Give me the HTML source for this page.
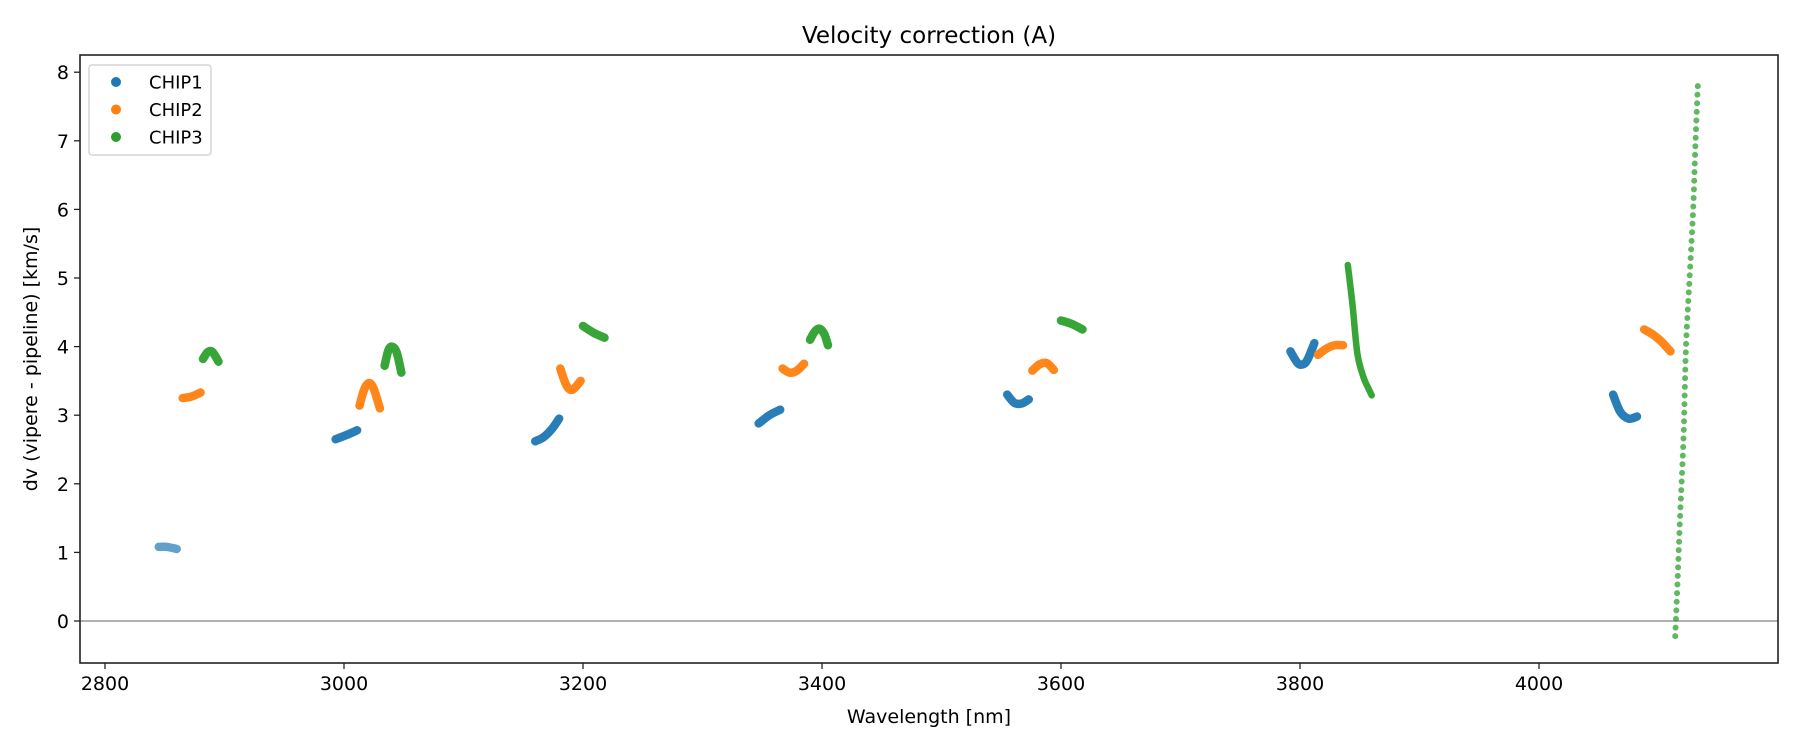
<!DOCTYPE html>
<html><head><meta charset="utf-8"><style>
body{margin:0;background:#fff;}
svg{display:block;font-family:"DejaVu Sans","Liberation Sans",sans-serif;}
</style></head><body>
<svg id="chart" width="1800" height="750">
<rect width="1800" height="750" fill="#fff"/>
<text x="929" y="43" font-size="23" text-anchor="middle" fill="#000">Velocity correction (A)</text>
<g id="plot"></g>
</svg>
<script>
const xTicks=[2800,3000,3200,3400,3600,3800,4000];
const yTicks=[0,1,2,3,4,5,6,7,8];
const chipNames=['CHIP1','CHIP2','CHIP3'];
const chipColors=['#1f77b4','#ff7f0e','#2ca02c'];
const chip1Wl=[[2845,2852,2860],[2993,3002,3011],[3160,3167,3174,3180],[3347,3356,3365],[3555,3561,3567,3573],[3792,3798,3802,3806,3812],[4062,4068,4075,4082]];
const chip1Dv=[[1.08,1.08,1.05],[2.65,2.71,2.78],[2.62,2.68,2.8,2.95],[2.88,3.0,3.08],[3.3,3.18,3.17,3.23],[3.93,3.76,3.74,3.8,4.05],[3.3,3.05,2.95,2.98]];
const chip2Wl=[[2865,2872,2880],[3013,3017,3021,3025,3030],[3181,3186,3191,3198],[3367,3373,3379,3385],[3576,3582,3588,3594],[3815,3822,3829,3836],[4088,4095,4102,4110]];
const chip2Dv=[[3.25,3.27,3.33],[3.14,3.38,3.47,3.38,3.1],[3.68,3.44,3.37,3.5],[3.68,3.62,3.65,3.75],[3.65,3.74,3.76,3.66],[3.88,3.97,4.02,4.02],[4.25,4.18,4.08,3.93]];
const chip3Wl=[[2882,2886,2890,2895],[3034,3037,3040,3044,3048],[3200,3209,3218],[3390,3394,3398,3402,3405],[3600,3609,3618],[3840,3844,3848,3853,3857,3860]];
const chip3Dv=[[3.82,3.92,3.92,3.78],[3.72,3.94,4.0,3.92,3.62],[4.3,4.2,4.13],[4.1,4.22,4.26,4.18,4.02],[4.38,4.33,4.25],[5.19,4.6,3.9,3.56,3.4,3.29]];
const edgeWl=[4114,4116,4118,4121,4123,4126,4129,4131,4133];
const edgeDv=[-0.22,0.6,1.5,2.7,4.0,5.0,6.0,7.0,7.84];
const X0=80,X1=1778,Y0=55,Y1=663;
const xs=v=>105+(v-2800)*239/200;
const ys=v=>621-v*68.6;
const NS='http://www.w3.org/2000/svg';
const g=document.getElementById('plot');
function mk(t,a,p){const e=document.createElementNS(NS,t);for(const k in a)e.setAttribute(k,a[k]);(p||g).appendChild(e);return e;}
function smooth(P){let d='M'+P[0][0]+','+P[0][1];
 for(let i=0;i<P.length-1;i++){const p0=P[Math.max(i-1,0)],p1=P[i],p2=P[i+1],p3=P[Math.min(i+2,P.length-1)];
  const c1=[p1[0]+(p2[0]-p0[0])/6,p1[1]+(p2[1]-p0[1])/6],c2=[p2[0]-(p3[0]-p1[0])/6,p2[1]-(p3[1]-p1[1])/6];
  d+=' C'+c1+' '+c2+' '+p2;}
 return d;}
let zl=mk('line',{x1:X0,x2:X1,y1:ys(0),y2:ys(0),stroke:'#808080','stroke-width':1.2});


const allWl=[chip1Wl,chip2Wl,chip3Wl],allDv=[chip1Dv,chip2Dv,chip3Dv];
allWl.forEach((segs,c)=>{segs.forEach((wl,i)=>{
 const P=wl.map((w,j)=>[xs(w),ys(allDv[c][i][j])]);
 const thin=(c===2&&i===5);
 const p=mk('path',{d:smooth(P),fill:'none',stroke:chipColors[c],'stroke-width':thin?6.5:8.5,'stroke-linecap':'round','stroke-linejoin':'round',opacity:(c===0&&i===0)?0.7:0.95});
 
 
});});
const ep=mk('path',{d:smooth(edgeWl.map((w,j)=>[xs(w),ys(edgeDv[j])])),fill:'none',stroke:'#2ca02c','stroke-width':6,'stroke-linecap':'round','stroke-dasharray':'0 8.6',opacity:0.75});


const fr=mk('rect',{x:X0,y:Y0,width:X1-X0,height:Y1-Y0,fill:'none',stroke:'#222','stroke-width':1.6});


xTicks.forEach(t=>{const x=xs(t);
 mk('line',{x1:x,x2:x,y1:Y1,y2:Y1+6,stroke:'#222','stroke-width':1.3});
 const tx=mk('text',{x:x,y:Y1+27,'font-size':19,'text-anchor':'middle'});tx.textContent=t;
 
 
});
yTicks.forEach(t=>{const y=ys(t);
 mk('line',{x1:X0-6,x2:X0,y1:y,y2:y,stroke:'#222','stroke-width':1.3});
 const tx=mk('text',{x:X0-11,y:y+7,'font-size':19,'text-anchor':'end'});tx.textContent=t;
 
 
});
const xl=mk('text',{x:929,y:723,'font-size':19,'text-anchor':'middle'});xl.textContent='Wavelength [nm]';


const yl=mk('text',{x:0,y:0,'font-size':19,'text-anchor':'middle',transform:'translate(37,359) rotate(-90)'});yl.textContent='dv (vipere - pipeline) [km/s]';


const lg=mk('g',{});


mk('rect',{x:89,y:65,width:122,height:90,rx:3,fill:'#fff',stroke:'#ccc','stroke-width':1.2},lg);
chipNames.forEach((n,i)=>{const y=82+i*27.5;
 const c=mk('circle',{cx:116,cy:y,r:5,fill:chipColors[i]},lg);
 
 
 const t=mk('text',{x:149,y:y+6.5,'font-size':18},lg);t.textContent=n;
 
 
});
</script>
</body></html>
